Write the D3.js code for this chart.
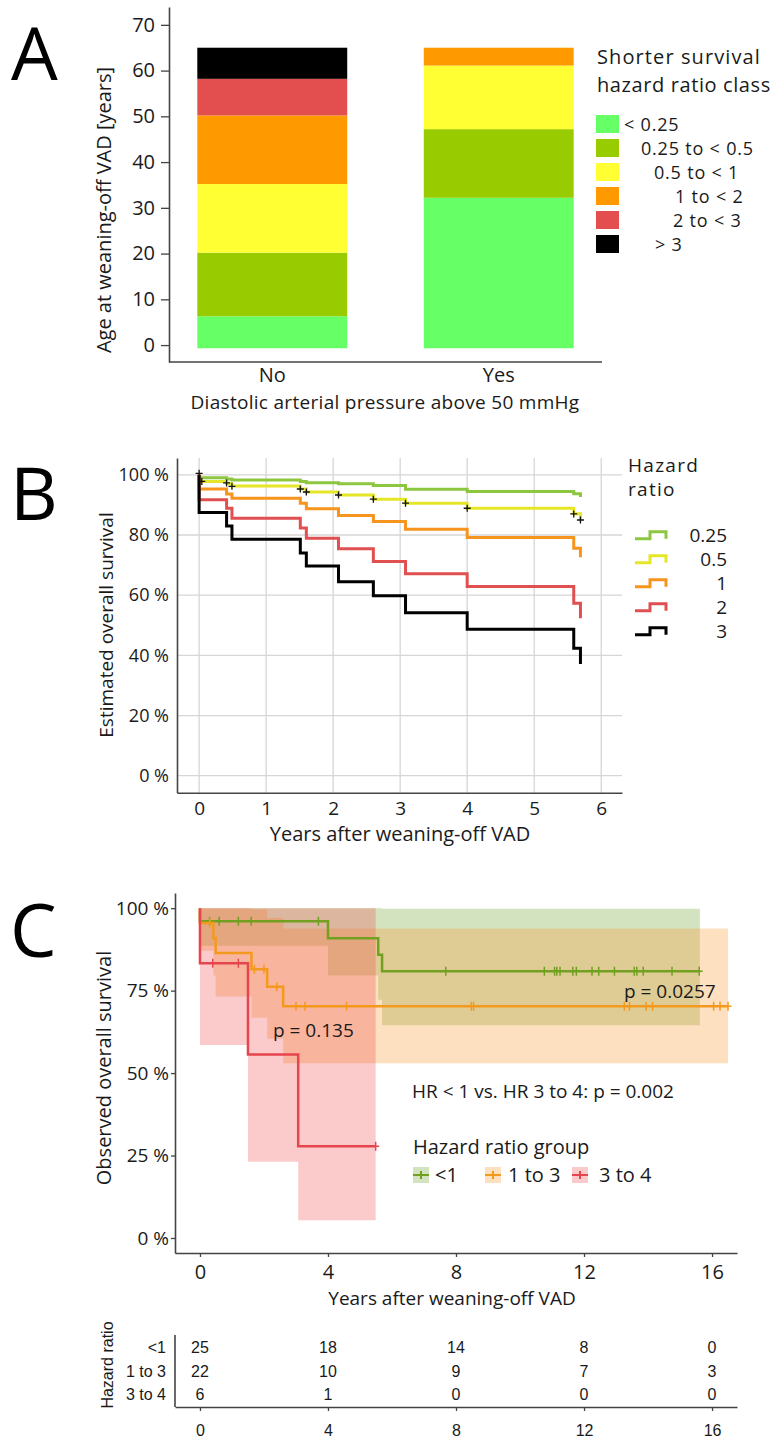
<!DOCTYPE html>
<html>
<head>
<meta charset="utf-8">
<script src="https://cdn.jsdelivr.net/npm/d3@7"></script>
<style>
  body { margin: 0; background: #fff; }
  svg { display: block; font-family: "Open Sans", sans-serif; }
</style>
</head>
<body>
<svg width="778" height="1440"></svg>
<script>
// ---------- panel A: stacked bars of age per hazard ratio class
var hrClasses = ["< 0.25", "0.25 to < 0.5", "0.5 to < 1", "1 to < 2", "2 to < 3", "> 3"];
var classColors = ["#66ff66", "#99cc00", "#ffff33", "#ff9900", "#e34f4f", "#000000"];
var dapGroups = ["No", "Yes"];
var barBase = -0.7;
var bandTopNo = [6.3, 20.2, 35.2, 50.2, 58.2, 65];
var bandTopYes = [32.2, 47.2, 61.1, 65, 65, 65];
var ageTicks = [0, 10, 20, 30, 40, 50, 60, 70];

// ---------- panel B: estimated survival per hazard ratio
var hrLevels = ["0.25", "0.5", "1", "2", "3"];
var hrColors = ["#8dc63f", "#e6e628", "#f7941d", "#e05050", "#000000"];
var estTimes = [0, 0, 0.41, 0.49, 1.51, 1.6, 2.08, 2.6, 3.08, 4.0, 5.59, 5.69];
var estHr025 = [100, 99.0, 98.6, 98.3, 97.8, 97.4, 97.0, 96.5, 95.2, 94.5, 93.7, 92.6];
var estHr05 = [100, 97.8, 97.0, 96.3, 95.3, 94.3, 93.3, 91.9, 90.6, 88.9, 87.1, 85.0];
var estHr1 = [100, 95.3, 93.6, 92.2, 90.6, 88.7, 86.5, 84.5, 81.9, 79.2, 75.6, 72.6];
var estHr2 = [100, 91.7, 88.9, 85.6, 82.3, 78.9, 75.4, 71.2, 67.1, 62.9, 57.3, 52.3];
var estHr3 = [100, 87.5, 83.0, 78.6, 74.0, 69.7, 64.5, 59.8, 54.2, 48.7, 42.4, 37.1];
var censorTimesB = [0, 0.04, 0.41, 0.49, 1.51, 1.6, 2.08, 2.6, 3.08, 4.0, 5.59, 5.69];
var censorSurvB = [100.5, 97.8, 97.3, 96.2, 95.3, 94.3, 93.3, 91.9, 90.6, 88.9, 87.0, 85.0];
var yearTicksB = [0, 1, 2, 3, 4, 5, 6];
var survTicksB = [0, 20, 40, 60, 80, 100];

// ---------- panel C: observed survival per hazard ratio group
var hrGroups = ["<1", "1 to 3", "3 to 4"];
var groupLine = ["#72a020", "#f39a1e", "#e6454d"];
var groupFill = ["#6ca22d", "#f7982d", "#f34e4e"];

var timesLow = [0, 4.0, 5.57, 5.69];
var survLow = [96, 90.9, 85.9, 80.9];
var lowerLow = [88.6, 79.6, 72.2, 64.5];
var upperLow = [100, 100, 100, 99.8];
var endLow = 15.62;
var censorLow = [0.3, 0.6, 1.2, 1.6, 3.7, 7.68, 10.76, 11.08, 11.15, 11.25, 11.65, 11.76,
  12.25, 12.46, 12.95, 13.57, 13.65, 13.85, 14.75, 15.6];

var timesMid = [0, 0.42, 0.49, 1.61, 2.1, 2.6];
var survMid = [95.5, 90.9, 86.4, 81.5, 76.2, 70.3];
var lowerMid = [87.1, 79.6, 73.2, 66.8, 60.4, 53.0];
var upperMid = [100, 100, 100, 99.7, 97.0, 93.8];
var endMid = 16.5;
var censorMid = [0.31, 1.7, 2.0, 2.4, 3.0, 3.28, 4.58, 8.48, 8.55, 13.26, 13.42, 13.94, 14.14,
  16.05, 16.25, 16.5];

var timesHigh = [0, 1.5, 3.07];
var survHigh = [83.3, 55.6, 27.8];
var lowerHigh = [58.5, 23.1, 5.4];
var upperHigh = [100, 100, 100];
var endHigh = 5.49;
var censorHigh = [0.4, 1.2, 5.49];

var yearTicksC = [0, 4, 8, 12, 16];
var survTicksC = [0, 25, 50, 75, 100];
var riskLow = [25, 18, 14, 8, 0];
var riskMid = [22, 10, 9, 7, 3];
var riskHigh = [6, 1, 0, 0, 0];

var svg = d3.select("svg");
var ink = "#1a1a1a";

function styleAxis(g, size, family) {
  g.attr("font-family", family || null).attr("font-size", size);
  g.selectAll("text").attr("fill", ink);
  g.selectAll("line").attr("stroke", "#444").attr("stroke-width", 1.3);
  g.select(".domain").attr("stroke", "#444").attr("stroke-width", 1.6);
}

// ================= A =================
var gA = svg.append("g");
var xA = d3.scaleBand().domain(dapGroups).range([169, 602]).paddingInner(0.338).paddingOuter(0.125);
var yA = d3.scaleLinear().domain([-3.7, 73.9]).range([362, 7]);

gA.append("text").attr("x", 11).attr("y", 80).attr("font-size", 74).text("A");

var segs = [];
dapGroups.forEach(function(grp, gi) {
  var tops = gi == 0 ? bandTopNo : bandTopYes;
  tops.forEach(function(top, i) {
    var bottom = i == 0 ? barBase : tops[i - 1];
    if (top > bottom) segs.push({ grp: grp, y0: bottom, y1: top, c: classColors[i] });
  });
});
gA.selectAll("rect.seg").data(segs).enter().append("rect")
  .attr("class", "seg")
  .attr("x", function(d) { return xA(d.grp); })
  .attr("width", xA.bandwidth())
  .attr("y", function(d) { return yA(d.y1); })
  .attr("height", function(d) { return yA(d.y0) - yA(d.y1); })
  .attr("fill", function(d) { return d.c; });

gA.append("g").attr("transform", "translate(169,0)")
  .call(d3.axisLeft(yA).tickValues(ageTicks).tickSize(8).tickPadding(6).tickSizeOuter(0))
  .call(styleAxis, 20);
gA.append("line").attr("x1", 169).attr("x2", 602).attr("y1", 362).attr("y2", 362)
  .attr("stroke", "#444").attr("stroke-width", 1.6);
gA.selectAll("text.cat").data(dapGroups).enter().append("text")
  .attr("x", function(d) { return xA(d) + xA.bandwidth() / 2; })
  .attr("y", 382).attr("text-anchor", "middle").attr("font-size", 20).attr("fill", ink)
  .text(function(d) { return d; });
gA.append("text").attr("x", 385).attr("y", 409).attr("text-anchor", "middle")
  .attr("font-size", 19).attr("letter-spacing", 0.3).attr("fill", ink)
  .text("Diastolic arterial pressure above 50 mmHg");
gA.append("text").attr("transform", "translate(111,210) rotate(-90)").attr("text-anchor", "middle")
  .attr("font-size", 20).attr("fill", ink).text("Age at weaning-off VAD [years]");

gA.append("text").attr("x", 597).attr("y", 64).attr("font-size", 20).attr("letter-spacing", 1.1)
  .attr("fill", ink).text("Shorter survival");
gA.append("text").attr("x", 597).attr("y", 92).attr("font-size", 20).attr("letter-spacing", 0.6)
  .attr("fill", ink).text("hazard ratio class");
var legX = [624, 641, 654, 675, 673, 655];
hrClasses.forEach(function(lab, i) {
  var top = 115 + i * 24;
  gA.append("rect").attr("x", 596).attr("y", top).attr("width", 23).attr("height", 18)
    .attr("fill", classColors[i]);
  gA.append("text").attr("x", legX[i]).attr("y", top + 16).attr("font-size", 18)
    .attr("letter-spacing", 0.8).attr("fill", ink).text(lab);
});

// ================= B =================
var gB = svg.append("g");
var xB = d3.scaleLinear().domain([-0.33, 6.31]).range([177, 622]);
var yB = d3.scaleLinear().domain([-5.65, 105.6]).range([792.7, 458]);

gB.append("text").attr("x", 10).attr("y", 520).attr("font-size", 74).text("B");

gB.selectAll("line.vg").data(yearTicksB).enter().append("line")
  .attr("x1", xB).attr("x2", xB).attr("y1", 458).attr("y2", 792.7)
  .attr("stroke", "#d6d6d6").attr("stroke-width", 1.3);
gB.selectAll("line.hg").data(survTicksB).enter().append("line")
  .attr("x1", 177).attr("x2", 622).attr("y1", yB).attr("y2", yB)
  .attr("stroke", "#d6d6d6").attr("stroke-width", 1.3);

gB.append("g").attr("transform", "translate(177,0)")
  .call(d3.axisLeft(yB).tickValues(survTicksB).tickSize(0).tickPadding(8).tickSizeOuter(0)
    .tickFormat(function(d) { return d + " %"; }))
  .call(styleAxis, 18);
gB.append("g").attr("transform", "translate(0,792.7)")
  .call(d3.axisBottom(xB).tickValues(yearTicksB).tickSize(0).tickPadding(9).tickSizeOuter(0)
    .tickFormat(d3.format("d")))
  .call(styleAxis, 19);
gB.append("text").attr("x", 400).attr("y", 841).attr("text-anchor", "middle")
  .attr("font-size", 20).attr("fill", ink).text("Years after weaning-off VAD");
gB.append("text").attr("transform", "translate(113,625) rotate(-90)").attr("text-anchor", "middle")
  .attr("font-size", 19).attr("fill", ink).text("Estimated overall survival");

var estSeries = [estHr025, estHr05, estHr1, estHr2, estHr3];
var lineB = d3.line().x(function(d) { return xB(d[0]); }).y(function(d) { return yB(d[1]); })
  .curve(d3.curveStepAfter);
estSeries.forEach(function(vals, k) {
  var pts = estTimes.map(function(t, i) { return [t, vals[i]]; });
  gB.append("path").attr("d", lineB(pts)).attr("fill", "none")
    .attr("stroke", hrColors[k]).attr("stroke-width", 3);
});
censorTimesB.forEach(function(t, i) {
  var cx = xB(t), cy = yB(censorSurvB[i]);
  gB.append("path").attr("d", "M" + (cx - 3.5) + "," + cy + "h7M" + cx + "," + (cy - 3.5) + "v7")
    .attr("stroke", "#111").attr("stroke-width", 1.3);
});

gB.append("text").attr("x", 628).attr("y", 472).attr("font-size", 19).attr("letter-spacing", 1.3)
  .attr("fill", ink).text("Hazard");
gB.append("text").attr("x", 628).attr("y", 496).attr("font-size", 19).attr("letter-spacing", 1.3)
  .attr("fill", ink).text("ratio");
hrLevels.forEach(function(lab, k) {
  var base = 541.7 + k * 24;
  var top = base - 10, bot = base - 3;
  gB.append("path")
    .attr("d", "M635," + bot + "H650V" + top + "H666V" + bot)
    .attr("fill", "none").attr("stroke", hrColors[k]).attr("stroke-width", 3);
  gB.append("text").attr("x", 727).attr("y", base).attr("text-anchor", "end")
    .attr("font-size", 19).attr("fill", ink).text(lab);
});

// ================= C =================
var gC = svg.append("g");
var xC = d3.scaleLinear().domain([-0.78, 16.78]).range([175, 737]);
var yC = d3.scaleLinear().domain([-4.55, 104.6]).range([1253, 893]);

gC.append("text").attr("x", 10).attr("y", 957).attr("font-size", 74).text("C");

var groupsC = [
  { times: timesLow, surv: survLow, lo: lowerLow, hi: upperLow, end: endLow, cens: censorLow },
  { times: timesMid, surv: survMid, lo: lowerMid, hi: upperMid, end: endMid, cens: censorMid },
  { times: timesHigh, surv: survHigh, lo: lowerHigh, hi: upperHigh, end: endHigh, cens: censorHigh }
];

var areaC = d3.area().x(function(d) { return xC(d.t); })
  .y0(function(d) { return yC(d.lo); }).y1(function(d) { return yC(d.hi); })
  .curve(d3.curveStepAfter);
var lineC = d3.line().x(function(d) { return xC(d[0]); }).y(function(d) { return yC(d[1]); })
  .curve(d3.curveStepAfter);

function survAt(g, t) {
  var s = 100;
  g.times.forEach(function(tt, i) { if (tt <= t) s = g.surv[i]; });
  return s;
}

groupsC.forEach(function(g, k) {
  var band = g.times.map(function(t, i) { return { t: t, lo: g.lo[i], hi: g.hi[i] }; });
  var n = g.times.length - 1;
  band.push({ t: g.end, lo: g.lo[n], hi: g.hi[n] });
  gC.append("path").attr("d", areaC(band)).attr("fill", groupFill[k]).attr("fill-opacity", 0.3);
});
groupsC.forEach(function(g, k) {
  var pts = [[0, 100]].concat(g.times.map(function(t, i) { return [t, g.surv[i]]; }));
  pts.push([g.end, g.surv[g.surv.length - 1]]);
  gC.append("path").attr("d", lineC(pts)).attr("fill", "none")
    .attr("stroke", groupLine[k]).attr("stroke-width", 2.5);
  g.cens.forEach(function(t) {
    var cx = xC(t), cy = yC(survAt(g, t));
    gC.append("path").attr("d", "M" + (cx - 3.5) + "," + cy + "h7M" + cx + "," + (cy - 4.5) + "v9")
      .attr("stroke", groupLine[k]).attr("stroke-width", 1.5);
  });
});

gC.append("g").attr("transform", "translate(175,0)")
  .call(d3.axisLeft(yC).tickValues(survTicksC).tickSize(4).tickPadding(2).tickSizeOuter(0)
    .tickFormat(function(d) { return d + " %"; }))
  .call(styleAxis, 19);
gC.append("g").attr("transform", "translate(0,1253)")
  .call(d3.axisBottom(xC).tickValues(yearTicksC).tickSize(4).tickPadding(8).tickSizeOuter(0))
  .call(styleAxis, 20);
gC.append("text").attr("x", 452).attr("y", 1305).attr("text-anchor", "middle")
  .attr("font-size", 19).attr("fill", ink).text("Years after weaning-off VAD");
gC.append("text").attr("transform", "translate(111,1068) rotate(-90)").attr("text-anchor", "middle")
  .attr("font-size", 20).attr("fill", ink).text("Observed overall survival");

gC.append("text").attr("x", 624).attr("y", 998).attr("font-size", 19).attr("fill", ink).text("p = 0.0257");
gC.append("text").attr("x", 273).attr("y", 1037).attr("font-size", 19).attr("fill", ink).text("p = 0.135");
gC.append("text").attr("x", 412).attr("y", 1098).attr("font-size", 19).attr("fill", ink)
  .text("HR < 1 vs. HR 3 to 4: p = 0.002");
gC.append("text").attr("x", 413).attr("y", 1154).attr("font-size", 20).attr("fill", ink)
  .text("Hazard ratio group");
var keyX = [413, 485, 572], keyLabX = [435, 508, 599];
hrGroups.forEach(function(lab, k) {
  gC.append("rect").attr("x", keyX[k]).attr("y", 1167).attr("width", 16).attr("height", 16)
    .attr("fill", groupFill[k]).attr("fill-opacity", 0.3);
  gC.append("path").attr("d", "M" + keyX[k] + ",1175h16M" + (keyX[k] + 8) + ",1171v8")
    .attr("stroke", groupLine[k]).attr("stroke-width", 2);
  gC.append("text").attr("x", keyLabX[k]).attr("y", 1182).attr("font-size", 20).attr("fill", ink)
    .text(lab);
});

// risk table
var tab = svg.append("g").attr("font-family", "'Liberation Sans', Arial, sans-serif");
var riskRows = [riskLow, riskMid, riskHigh];
var rowBase = [1353, 1377, 1400];
tab.append("line").attr("x1", 175).attr("x2", 175).attr("y1", 1335).attr("y2", 1407)
  .attr("stroke", "#444").attr("stroke-width", 1.6);
riskRows.forEach(function(row, r) {
  tab.append("text").attr("x", 166).attr("y", rowBase[r]).attr("text-anchor", "end")
    .attr("font-size", 16).attr("fill", ink).text(hrGroups[r]);
  tab.selectAll(null).data(row).enter().append("text")
    .attr("x", function(d, i) { return xC(yearTicksC[i]); })
    .attr("y", rowBase[r]).attr("text-anchor", "middle").attr("font-size", 16).attr("fill", ink)
    .text(function(d) { return d; });
});
tab.append("g").attr("transform", "translate(0,1407)")
  .call(d3.axisBottom(xC).tickValues(yearTicksC).tickSize(4).tickPadding(14).tickSizeOuter(0))
  .call(styleAxis, 16, "'Liberation Sans', Arial, sans-serif");
tab.append("text").attr("transform", "translate(113,1365) rotate(-90)").attr("text-anchor", "middle")
  .attr("font-size", 16).attr("fill", ink).text("Hazard ratio");
</script>
</body>
</html>
